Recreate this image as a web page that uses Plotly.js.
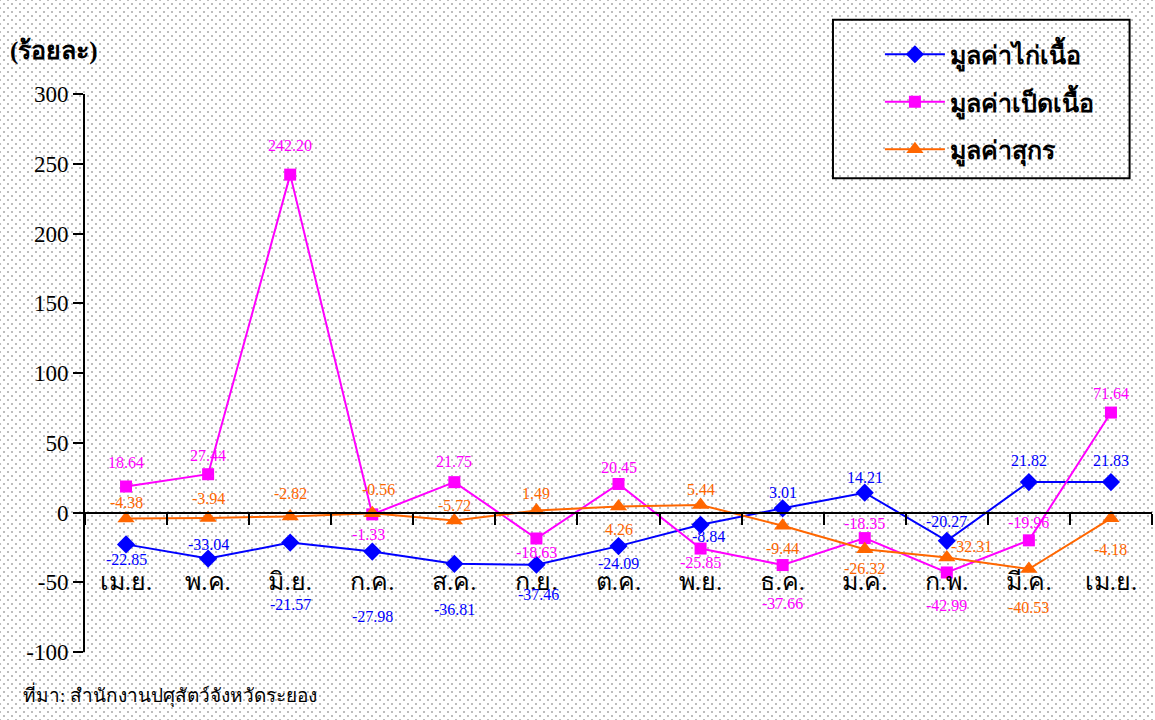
<!DOCTYPE html>
<html>
<head>
<meta charset="utf-8">
<script src="https://cdn.plot.ly/plotly-3.0.1.min.js"></script>
<style>
  html, body { margin: 0; padding: 0; }
  body {
    width: 1155px; height: 720px; overflow: hidden;
    background-color: #ffffff;
    background-image:
      radial-gradient(circle, #bdbdbd 0.9px, transparent 1.3px),
      radial-gradient(circle, #bdbdbd 0.9px, transparent 1.3px);
    background-size: 8px 8px, 8px 8px;
    background-position: 0 0, 4px 4px;
  }
  #chart { width: 1155px; height: 720px; }
</style>
</head>
<body>
<div id="chart"></div>
<script>
// ---- Data ----
const months = ["เม.ย.", "พ.ค.", "มิ.ย.", "ก.ค.", "ส.ค.", "ก.ย.", "ต.ค.", "พ.ย.", "ธ.ค.", "ม.ค.", "ก.พ.", "มี.ค.", "เม.ย."];
const chickenValues = [-22.85, -33.04, -21.57, -27.98, -36.81, -37.46, -24.09, -8.84, 3.01, 14.21, -20.27, 21.82, 21.83];
const duckValues = [18.64, 27.44, 242.20, -1.33, 21.75, -18.63, 20.45, -25.85, -37.66, -18.35, -42.99, -19.96, 71.64];
const pigValues = [-4.38, -3.94, -2.82, -0.56, -5.72, 1.49, 4.26, 5.44, -9.44, -26.32, -32.31, -40.53, -4.18];
const seriesNames = ["มูลค่าไก่เนื้อ", "มูลค่าเป็ดเนื้อ", "มูลค่าสุกร"];
const yTickValues = [-100, -50, 0, 50, 100, 150, 200, 250, 300];
const yTickLabels = ["-100", "-50", "0", "50", "100", "150", "200", "250", "300"];
const yTitle = "(ร้อยละ)";
const sourceText = "ที่มา: สำนักงานปศุสัตว์จังหวัดระยอง";

// ---- Label placement (pixel offsets from each point) ----
const chickenLabelDy = [-15, 14, -62, -65, -46, -30, -17, -12, 16, 15, 19, 22, 22];
const duckLabelDy = [24, 19, 29, -20, 21, -14, 16, -14, -38, 15, -33, 18, 19];
const pigLabelDy = [16, 20, 23, 24, 15, 17, -23, 15, -23, -19, 11, -38, -31];
const chickenLabelDx = [0, 0, 0, 0, 0, 2, 0, 8, 0, 0, 0, 0, 0];
const duckLabelDx = [0, 0, 0, -4, 0, 0, 0, 0, 0, 0, 0, 0, 0];
const pigLabelDx = [0, 0, 0, 6, 0, 0, 0, 0, 0, 0, 25, 0, 0];

const xIdx = months.map((m, i) => i);
const boundaries = months.map((m, i) => i - 0.5).concat([months.length - 0.5]);

const colors = ["#0000ff", "#ff00ff", "#ff6600"];
const symbols = ["diamond", "square", "triangle-up"];
const msizes = [14, 12, 15];
const allValues = [chickenValues, duckValues, pigValues];
const allDy = [chickenLabelDy, duckLabelDy, pigLabelDy];
const allDx = [chickenLabelDx, duckLabelDx, pigLabelDx];

const serif = "Liberation Serif, Times New Roman, serif";

const traces = allValues.map((vals, s) => ({
  type: "scatter",
  mode: "lines+markers",
  name: seriesNames[s],
  legendgroup: "g" + s,
  x: xIdx,
  y: vals,
  line: { color: colors[s], width: 2 },
  marker: { color: colors[s], symbol: symbols[s], size: msizes[s] },
  cliponaxis: false,
  hoverinfo: "skip"
}));

const annotations = [];
allValues.forEach((vals, s) => {
  vals.forEach((v, i) => {
    annotations.push({
      x: xIdx[i], y: v, xref: "x", yref: "y",
      text: v.toFixed(2),
      showarrow: false,
      xshift: allDx[s][i],
      yshift: allDy[s][i],
      font: { family: serif, size: 16, color: colors[s] }
    });
  });
});
annotations.push({
  xref: "paper", yref: "paper", x: -0.072, y: 1.077,
  xanchor: "left", yanchor: "middle", showarrow: false,
  text: "<b>" + yTitle + "</b>",
  font: { family: serif, size: 25, color: "#000" }
});
annotations.push({
  xref: "paper", yref: "paper", x: -0.060, y: -0.077,
  xanchor: "left", yanchor: "middle", showarrow: false,
  text: sourceText,
  font: { family: serif, size: 19, color: "#000" }
});

const layout = {
  width: 1155, height: 720,
  paper_bgcolor: "rgba(0,0,0,0)",
  plot_bgcolor: "rgba(0,0,0,0)",
  margin: { l: 85, r: 3, t: 94, b: 68 },
  showlegend: true,
  legend: {
    x: 0.745, y: 1.112, xanchor: "left", yanchor: "top",
    bgcolor: "rgba(0,0,0,0)", borderwidth: 0,
    traceorder: "grouped", tracegroupgap: 12,
    font: { family: serif, size: 25, color: "#000", weight: "bold" },
    itemwidth: 60
  },
  shapes: [{
    type: "rect", xref: "paper", yref: "paper",
    x0: 0.701, x1: 0.979, y0: 0.849, y1: 1.133,
    line: { color: "#000", width: 2 }, fillcolor: "rgba(0,0,0,0)"
  }],
  xaxis: {
    range: [-0.5, months.length - 0.5],
    anchor: "free", position: 0.25,
    tickmode: "array", tickvals: xIdx, ticktext: months,
    ticks: "", ticklabelstandoff: 46,
    showline: true, linecolor: "#000", linewidth: 2,
    showgrid: false, zeroline: false,
    tickfont: { family: serif, size: 25, color: "#000" },
    minor: { tickvals: boundaries, ticks: "outside", ticklen: 11, tickwidth: 2, tickcolor: "#000", showgrid: false }
  },
  yaxis: {
    range: [-100, 300],
    tickmode: "array", tickvals: yTickValues, ticktext: yTickLabels,
    ticks: "outside", ticklen: 10, tickwidth: 2, tickcolor: "#000",
    showline: true, linecolor: "#000", linewidth: 2,
    showgrid: false, zeroline: false,
    tickfont: { family: serif, size: 23, color: "#000" }
  },
  annotations: annotations
};

Plotly.newPlot("chart", traces, layout, { displayModeBar: false, staticPlot: true });
</script>
</body>
</html>
